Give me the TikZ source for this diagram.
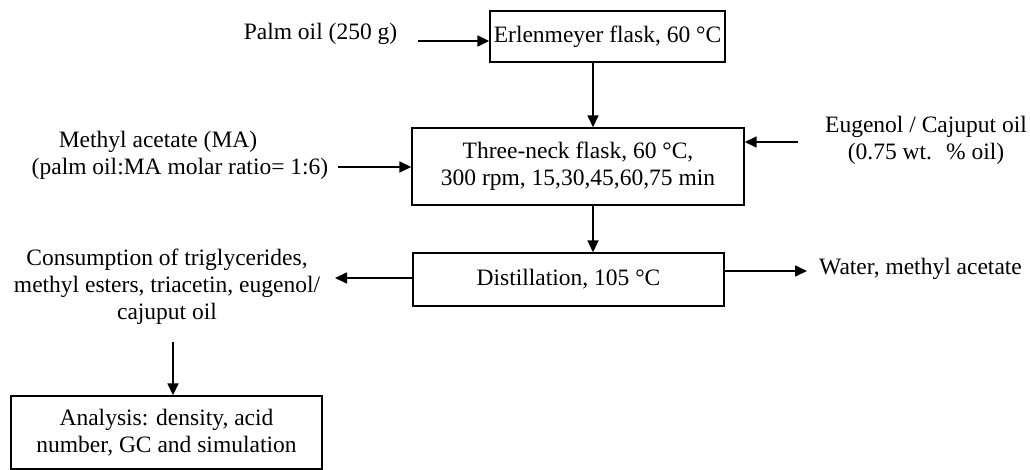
\documentclass[tikz,border=0pt]{standalone}
\usepackage{fontspec}
\setmainfont{Liberation Serif}
\usetikzlibrary{arrows.meta}
\begin{document}
\begin{tikzpicture}[x=1pt,y=-1pt,
  every node/.style={font=\fontsize{23.5}{27}\selectfont},
  box/.style={draw,line width=1.4pt,inner sep=0pt,align=center},
  lbl/.style={inner sep=0pt,align=center},
  arr/.style={line width=1.6pt,-{Triangle[length=12pt,width=11pt]}}]
\useasboundingbox (0,0) rectangle (1030,470);
% boxes
\node[box,minimum width=235pt,minimum height=51pt] (b1) at (607.5,36.5) {Erlenmeyer flask, 60 °C};
\node[box,minimum width=332pt,minimum height=77pt] (b2) at (578,166.5) {Three-neck flask, 60 °C,\\300 rpm, 15,30,45,60,75 min};
\node[box,minimum width=311pt,minimum height=53pt] (b3) at (568.5,279.5) {Distillation, 105 °C};
\node[box,minimum width=311pt,minimum height=73pt] (b4) at (166.5,432.5) {Analysis: density, acid\\number, GC and simulation};
% labels
\node[lbl] (palm) at (320.5,34) {Palm oil (250 g)};
\node[lbl] (ma) at (180,155) {Methyl acetate (MA)\kern44pt\\(palm oil:MA molar ratio= 1:6)};
\node[lbl] (eug) at (926,140) {Eugenol / Cajuput oil\\(0.75 wt.\hspace{0.6em}\% oil)};
\node[lbl,anchor=west] (water) at (819,269) {Water, methyl acetate};
\node[lbl] (cons) at (167,287) {Consumption of triglycerides,\\methyl esters, triacetin, eugenol/\\cajuput oil};
% connector end points
\coordinate (palmE) at (418,41);
\coordinate (maE) at (338,167);
\coordinate (eugW) at (798,142);
\coordinate (consE) at (335,278);
\coordinate (waterW) at (807,271);
\coordinate (consS) at (173,342);
\coordinate (xa) at (593,0);
% connectors
\draw[arr] (palmE) -- (palmE -| b1.west);
\draw[arr] (b1.south -| xa) -- (b2.north -| xa);
\draw[arr] (maE) -- (maE -| b2.west);
\draw[arr] (eugW) -- (eugW -| b2.east);
\draw[arr] (b2.south -| xa) -- (b3.north -| xa);
\draw[arr] (consE -| b3.west) -- (consE);
\draw[arr] (waterW -| b3.east) -- (waterW);
\draw[arr] (consS) -- (consS |- b4.north);
\end{tikzpicture}
\end{document}
